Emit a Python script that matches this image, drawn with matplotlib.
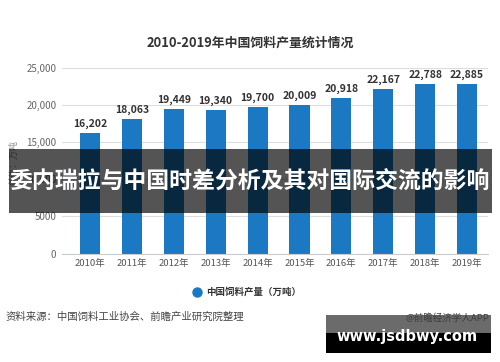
import matplotlib
matplotlib.use("Agg")
import matplotlib.pyplot as plt
from matplotlib.patches import Rectangle
from matplotlib.lines import Line2D

plt.rcParams['font.family'] = ['Noto Sans CJK SC', 'DejaVu Sans']

# data
years = ["2010年", "2011年", "2012年", "2013年", "2014年",
         "2015年", "2016年", "2017年", "2018年", "2019年"]
output = [16202, 18063, 19449, 19340, 19700, 20009, 20918, 22167, 22788, 22885]
y_ticks = [0, 5000, 10000, 15000, 20000, 25000]
y_tick_labels = ["0", "5000", "10,000", "15,000", "20,000", "25,000"]

title = "2010-2019年中国饲料产量统计情况"
legend_label = "中国饲料产量（万吨）"
y_label = "单位：万吨"
source = "资料来源：中国饲料工业协会、前瞻产业研究院整理"
credit = "@前瞻经济学人APP"
banner = "委内瑞拉与中国时差分析及其对国际交流的影响"
site = "www.jsdbwy.com"

W, H = 500, 362
BAR_COLOR = "#1b79c3"


def fx(x):
    return x / W


def fy(y):
    return 1 - y / H


fig = plt.figure(figsize=(5, 3.62), dpi=100)
fig.patch.set_facecolor("white")

ax = fig.add_axes([fx(62), fy(253.5), fx(488) - fx(62), fy(68) - fy(253.5)])
x = list(range(len(years)))
ax.bar(x, output, width=0.48, color=BAR_COLOR, zorder=2)
ax.set_xlim(-0.668, 9.5)
ax.set_ylim(0, 25000)
ax.set_yticks(y_ticks)
ax.set_yticklabels(y_tick_labels, fontsize=7, color="#666666")
ax.set_xticks(x)
ax.set_xticklabels(years, fontsize=6.8, color="#555555")
ax.tick_params(axis="both", length=0, pad=4)
ax.grid(axis="y", color="#dddddd", linewidth=0.8, zorder=0)
for s in ["top", "right", "left"]:
    ax.spines[s].set_visible(False)
ax.spines["bottom"].set_color("#cccccc")
ax.set_facecolor("none")

for xi, v in zip(x, output):
    ax.annotate(f"{v:,}", (xi, v), xytext=(0, 3), textcoords="offset points",
                ha="center", va="bottom", fontsize=7.5, fontweight="bold",
                color="#333333")

fig.text(fx(250), fy(43), title, ha="center", va="center", fontsize=9.3,
         fontweight="bold", color="#333333")
fig.text(fx(14), fy(162), y_label, ha="center", va="center", rotation=90,
         fontsize=6.5, color="#888888")

# legend
fig.add_artist(Line2D([fx(197)], [fy(292)], marker="o", markersize=6.5,
                      color=BAR_COLOR, transform=fig.transFigure))
fig.text(fx(206), fy(292), legend_label, ha="left", va="center", fontsize=6.8,
         fontweight="bold", color="#333333")

fig.text(fx(6), fy(317), source, ha="left", va="center", fontsize=7.5,
         color="#444444")

# overlay banner
fig.add_artist(Rectangle((fx(9), fy(213)), fx(492) - fx(9), fy(149) - fy(213),
                         transform=fig.transFigure, facecolor="black",
                         alpha=0.67, edgecolor="none", zorder=5))
fig.text(fx(250), fy(181), banner, ha="center", va="center", fontsize=16.5,
         fontweight="bold", color="white", zorder=6)

# site box
fig.add_artist(Rectangle((fx(326), fy(333)), fx(491) - fx(326), fy(315) - fy(333),
                         transform=fig.transFigure, facecolor="#6b6b6b",
                         edgecolor="none", zorder=5))
fig.add_artist(Rectangle((fx(326), fy(353)), fx(491) - fx(326), fy(333) - fy(353),
                         transform=fig.transFigure, facecolor="black",
                         edgecolor="none", zorder=5))
fig.text(fx(406), fy(318.5), credit, ha="left", va="center", fontsize=6.8,
         color="#3c3c3c", zorder=6)
fig.text(fx(407), fy(337), site, ha="center", va="center", fontsize=10.5,
         fontweight="bold", color="white", family="DejaVu Sans", zorder=6)

fig.savefig("out.png", dpi=100)
